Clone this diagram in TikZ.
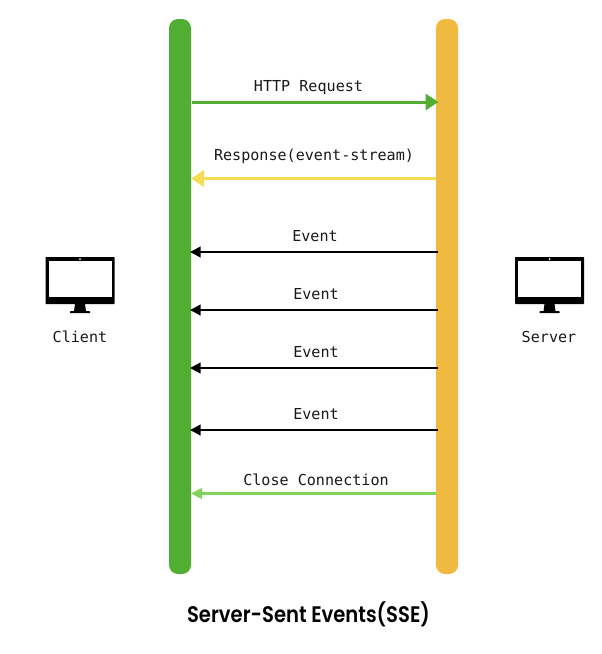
\documentclass[tikz,border=0pt]{standalone}
\usepackage{fontspec}
\setmonofont{DejaVu Sans Mono}
\setsansfont{Poppins}
\usetikzlibrary{arrows.meta}
\definecolor{bargreen}{HTML}{52AE32}
\definecolor{baryellow}{HTML}{F0B940}
\definecolor{respyellow}{HTML}{F6DC55}
\definecolor{closegreen}{HTML}{7ED35A}
\tikzset{
  x=1pt,y=-1pt,
  lane/.style={rounded corners=9pt,minimum width=22pt,minimum height=555pt,inner sep=0pt,draw=none},
  lbl/.style={font=\ttfamily\fontsize{15.1}{16}\selectfont,inner sep=0pt,anchor=base,text=black!90},
  bigmsg/.style={line width=3pt,-{Triangle[length=13pt,width=16pt]}},
  eventmsg/.style={draw=black,line width=2.2pt,-{Triangle[length=10.5pt,width=10.5pt]}},
  closemsg/.style={draw=closegreen,line width=2.3pt,-{Triangle[length=11pt,width=10.5pt]}},
  monitor/.pic={
    \fill[black,rounded corners=.6pt] (-34.5,-24) rectangle (34.5,23);
    \fill[white] (-31.5,-20) rectangle (31.5,16);
    \fill[white] (0,-22) circle (1pt);
    \fill[black] (-5,23) -- (5,23) -- (6,30) -- (10,30.3) -- (10,32) -- (-10,32) -- (-10,30.3) -- (-6,30) -- cycle;
  }
}
\begin{document}
\begin{tikzpicture}
\useasboundingbox (0,0) rectangle (602,654);
\node[lane,fill=bargreen] (client) at (180,296.5) {};
\node[lane,fill=baryellow] (server) at (447,296.5) {};
\pic at (80,281) {monitor};
\pic at (549.5,281) {monitor};
\node[lbl] (clientlbl) at (80,342) {Client};
\node[lbl] (serverlbl) at (549,342) {Server};
\node[lbl] (t1) at (308.5,91) {HTTP Request};
\node[lbl] (t2) at (314,160) {Response(event-stream)};
\node[lbl] (t3) at (315,241) {Event};
\node[lbl] (t4) at (316,299) {Event};
\node[lbl] (t5) at (316,357) {Event};
\node[lbl] (t6) at (316,419) {Event};
\node[lbl] (t7) at (316,485) {Close Connection};
\node[font=\sffamily\fontsize{22.5}{24}\selectfont\fontspec{Poppins SemiBold},xscale=.87,inner sep=0pt,anchor=base,text=black] (title) at (308.5,622) {Server-Sent Events(SSE)};
\coordinate (a1) at (192,102); \coordinate (b1) at (438.5,102);
\coordinate (a2) at (191,178.5); \coordinate (b2) at (436,178.5);
\coordinate (a3) at (190,252); \coordinate (b3) at (438,252);
\coordinate (a4) at (190,310); \coordinate (b4) at (438,310);
\coordinate (a5) at (190,368); \coordinate (b5) at (438,368);
\coordinate (a6) at (190,430); \coordinate (b6) at (438,430);
\coordinate (a7) at (191,493.5); \coordinate (b7) at (436,493.5);
\draw[bigmsg,draw=bargreen] (a1) -- (b1);
\draw[bigmsg,draw=respyellow] (b2) -- (a2);
\draw[eventmsg] (b3) -- (a3);
\draw[eventmsg] (b4) -- (a4);
\draw[eventmsg] (b5) -- (a5);
\draw[eventmsg] (b6) -- (a6);
\draw[closemsg] (b7) -- (a7);
\end{tikzpicture}
\end{document}
